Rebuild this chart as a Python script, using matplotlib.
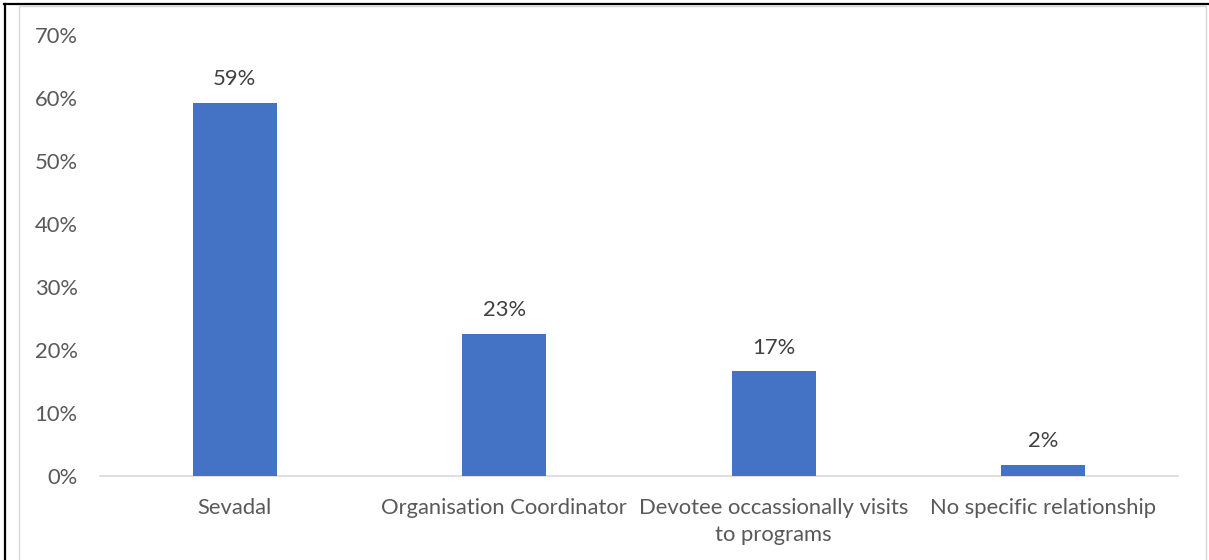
import matplotlib
matplotlib.use("Agg")
import matplotlib.pyplot as plt
from matplotlib.lines import Line2D
from matplotlib.ticker import PercentFormatter

categories = ["Sevadal", "Organisation Coordinator",
              "Devotee occassionally visits\nto programs", "No specific relationship"]
shares = [0.592, 0.226, 0.166, 0.018]
ytick_values = [0, 0.1, 0.2, 0.3, 0.4, 0.5, 0.6, 0.7]

bar_color = "#4472C4"
text_color = "#595959"
plt.rcParams["font.family"] = ["Lato", "DejaVu Sans"]
FS = 15.8

W, H = 1209, 560
fig = plt.figure(figsize=(W / 100, H / 100), dpi=100)
ax = fig.add_axes([100 / W, 1 - 476 / H, 1078 / W, 441 / H])

x = range(len(categories))
bars = ax.bar(x, shares, width=0.31, color=bar_color, zorder=3)
for rect, v in zip(bars, shares):
    ax.annotate(f"{v:.0%}", (rect.get_x() + rect.get_width() / 2, v),
                xytext=(0, 10), textcoords="offset points",
                ha="center", va="bottom", fontsize=FS, color="#404040")

ax.set_xlim(-0.5, len(categories) - 0.5)
ax.set_ylim(0, 0.7)
ax.set_yticks(ytick_values)
ax.yaxis.set_major_formatter(PercentFormatter(1.0, decimals=0))
ax.set_xticks(list(x))
ax.set_xticklabels(categories, linespacing=1.45)
ax.tick_params(axis="y", length=0, pad=16, labelsize=FS, labelcolor=text_color)
ax.tick_params(axis="x", length=0, pad=16, labelsize=FS, labelcolor=text_color)
for side in ("top", "right", "left"):
    ax.spines[side].set_visible(False)
ax.spines["bottom"].set_color("#d9d9d9")
ax.spines["bottom"].set_linewidth(1.2)

# frame around the chart
def px_line(xs, ys, color, lw):
    fig.add_artist(Line2D([v / W for v in xs], [1 - v / H for v in ys],
                          color=color, linewidth=lw, transform=fig.transFigure))

px_line([19, 19, 1206, 1206], [H, 6, 6, 560], "#d9d9d9", 1.0)
px_line([4.5, 4.5], [H, 4], "black", 1.6)
px_line([4, 1208], [4, 4], "black", 1.6)

fig.savefig("out.png", dpi=100, facecolor="white")
